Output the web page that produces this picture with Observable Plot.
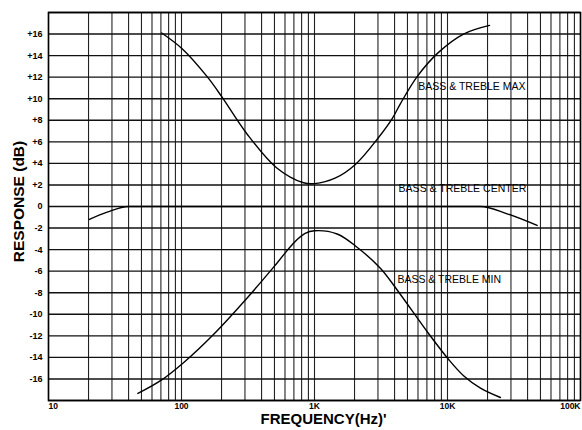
<!DOCTYPE html>
<html><head><meta charset="utf-8">
<script src="https://cdn.jsdelivr.net/npm/d3@7"></script>
<script src="https://cdn.jsdelivr.net/npm/@observablehq/plot@0.6"></script>
<style>body{margin:0;background:#fff}</style>
</head><body><div id="chart"></div>
<script>
// Curve data (frequency in Hz, response in dB)
const maxFreq = [71, 102, 157, 203, 308, 518, 827, 1000, 1440, 2030, 3030, 3860, 4430, 5950, 8560, 13200, 20700];
const maxDb   = [16.1, 14.6, 12.0, 10.1, 6.8, 3.6, 2.2, 2.12, 2.65, 3.9, 6.4, 8.2, 9.55, 12.1, 14.3, 16.0, 16.8];
const minFreq = [47, 70, 104, 171, 314, 527, 695, 850, 1000, 1480, 2100, 3140, 4210, 7200, 10200, 13200, 17700, 25000];
const minDb   = [-17.35, -16.14, -14.47, -11.97, -8.44, -5.19, -3.4, -2.5, -2.25, -2.55, -3.8, -5.75, -7.79, -11.78, -14.2, -15.7, -16.85, -17.72];
const ctrFreq = [20.3, 27.6, 40, 50, 1000, 17700, 28100, 47200];
const ctrDb   = [-1.2, -0.53, 0, 0, 0, 0, -0.68, -1.76];

// Tick labels
const xTicks = [10, 100, 1000, 10000, 100000];
const xTickLabels = ["10", "100", "1K", "10K", "100K"];
const yTicks = [16, 14, 12, 10, 8, 6, 4, 2, 0, -2, -4, -6, -8, -10, -12, -14, -16];

// Curve labels
const labelText = ["BASS & TREBLE MAX", "BASS & TREBLE CENTER", "BASS & TREBLE MIN"];
const labelFreq = [6030, 4290, 4200];
const labelDb = [11.1, 1.67, -6.76];

const toRows = (f, v) => f.map((d, i) => ({f: d, v: v[i]}));
const maxRows = toRows(maxFreq, maxDb);
const minRows = toRows(minFreq, minDb);
const ctrRows = toRows(ctrFreq, ctrDb);
const labels = labelText.map((t, i) => ({t, f: labelFreq[i], v: labelDb[i]}));
const xLab = xTicks.map((d, i) => ({d, t: xTickLabels[i]}));

const vGrid = [];
for (const dec of [10, 100, 1000, 10000]) for (let k = 1; k <= 9; k++) vGrid.push(k * dec);
vGrid.push(100000);
const hGrid = d3.range(-18, 19, 2);

const chart = Plot.plot({
  width: 582, height: 430,
  marginLeft: 48, marginRight: 2, marginTop: 12, marginBottom: 30,
  x: {type: "log", domain: [10, 100000], axis: null},
  y: {domain: [-18, 18], axis: null},
  style: {fontFamily: "'Liberation Sans', Arial, sans-serif", background: "#fff", color: "#000"},
  marks: [
    Plot.ruleX(vGrid, {stroke: "#222", strokeWidth: 1.1}),
    Plot.ruleY(hGrid, {stroke: "#111", strokeWidth: 1.4}),
    Plot.frame({stroke: "#000", strokeWidth: 1.6}),
    Plot.line(maxRows, {x: "f", y: "v", curve: "catmull-rom", stroke: "#000", strokeWidth: 1.4}),
    Plot.line(minRows, {x: "f", y: "v", curve: "catmull-rom", stroke: "#000", strokeWidth: 1.4}),
    Plot.line(ctrRows, {x: "f", y: "v", curve: "monotone-x", stroke: "#000", strokeWidth: 1.4}),
    Plot.text(labels, {x: "f", y: "v", text: "t", textAnchor: "start", fontSize: 10.5, fill: "#000"}),
    Plot.text(yTicks, {y: d => d, frameAnchor: "left", dx: -6, textAnchor: "end",
      text: d => d > 0 ? "+" + d : String(d), fontSize: 9, fontWeight: "bold", fill: "#000"}),
    Plot.text(xLab.slice(0, 1), {x: "d", text: "t", frameAnchor: "bottom", dy: 8, textAnchor: "start", fontSize: 8.5, fontWeight: "bold", fill: "#000"}),
    Plot.text(xLab.slice(1, 4), {x: "d", text: "t", frameAnchor: "bottom", dy: 8, textAnchor: "middle", fontSize: 8.5, fontWeight: "bold", fill: "#000"}),
    Plot.text(xLab.slice(4), {x: "d", text: "t", frameAnchor: "bottom", dy: 8, textAnchor: "end", fontSize: 8.5, fontWeight: "bold", fill: "#000"}),
    Plot.text(["FREQUENCY(Hz)'"], {frameAnchor: "bottom", textAnchor: "middle", dx: 9, dy: 23, fontSize: 15, fontWeight: "bold", fill: "#000"}),
    Plot.text(["RESPONSE (dB)"], {frameAnchor: "left", textAnchor: "middle", dx: -29, dy: -5, rotate: -90, fontSize: 15.5, fontWeight: "bold", fill: "#000"})
  ]
});
document.getElementById("chart").appendChild(chart);
</script>
</body></html>
